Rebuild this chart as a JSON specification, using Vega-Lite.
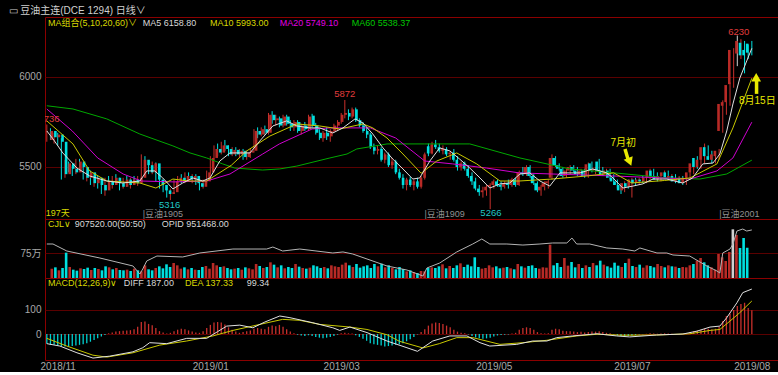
{
"$schema":"https://vega.github.io/schema/vega-lite/v6.json",
"background":"#000000",
"padding":{"top":5,"left":0,"right":0,"bottom":0},
"spacing":0,
"bounds":"flush",
"title":{"text":"▭ 豆油主连(DCE 1294)   日线∨","anchor":"start","frame":"bounds","color":"#d0d0d0","fontSize":10,"font":"Liberation Sans, Noto Sans CJK SC","fontWeight":"normal","dx":8,"offset":1},
"config":{
 "view":{"stroke":"#8b0000","strokeWidth":1},
 "axis":{"domain":false,"ticks":false,"labelColor":"#a8a8a8","labelFont":"Liberation Sans, Noto Sans CJK SC","labelFontSize":10,"gridColor":"#5a0000","gridWidth":1},
 "axisY":{"minExtent":44,"maxExtent":44,"labelPadding":4}
},
"datasets":{
"k":[
{"i":0,"o":5650,"h":5736,"l":5640,"c":5700,"v":280000,"m":-40},
{"i":1,"o":5700,"h":5715,"l":5650,"c":5665,"v":320000,"m":-45},
{"i":2,"o":5665,"h":5690,"l":5630,"c":5680,"v":230000,"m":-45},
{"i":3,"o":5680,"h":5690,"l":5620,"c":5640,"v":300000,"m":-48},
{"i":4,"o":5640,"h":5660,"l":5430,"c":5460,"v":760000,"m":-50},
{"i":5,"o":5460,"h":5540,"l":5440,"c":5520,"v":330000,"m":-52},
{"i":6,"o":5520,"h":5530,"l":5470,"c":5490,"v":250000,"m":-52},
{"i":7,"o":5490,"h":5510,"l":5450,"c":5470,"v":220000,"m":-50},
{"i":8,"o":5470,"h":5545,"l":5460,"c":5530,"v":290000,"m":-48},
{"i":9,"o":5530,"h":5545,"l":5480,"c":5500,"v":270000,"m":-45},
{"i":10,"o":5500,"h":5520,"l":5430,"c":5440,"v":310000,"m":-42},
{"i":11,"o":5440,"h":5480,"l":5420,"c":5470,"v":240000,"m":-38},
{"i":12,"o":5470,"h":5480,"l":5400,"c":5410,"v":300000,"m":-32},
{"i":13,"o":5410,"h":5450,"l":5390,"c":5440,"v":270000,"m":-25},
{"i":14,"o":5440,"h":5450,"l":5380,"c":5400,"v":230000,"m":-18},
{"i":15,"o":5400,"h":5430,"l":5350,"c":5370,"v":350000,"m":-10},
{"i":16,"o":5370,"h":5440,"l":5340,"c":5420,"v":320000,"m":-4},
{"i":17,"o":5420,"h":5450,"l":5390,"c":5400,"v":260000,"m":3},
{"i":18,"o":5400,"h":5450,"l":5380,"c":5440,"v":300000,"m":6},
{"i":19,"o":5440,"h":5460,"l":5400,"c":5410,"v":240000,"m":10},
{"i":20,"o":5410,"h":5440,"l":5370,"c":5390,"v":230000,"m":12},
{"i":21,"o":5390,"h":5440,"l":5380,"c":5430,"v":250000,"m":14},
{"i":22,"o":5430,"h":5450,"l":5390,"c":5400,"v":210000,"m":15},
{"i":23,"o":5400,"h":5440,"l":5380,"c":5430,"v":280000,"m":16},
{"i":24,"o":5430,"h":5450,"l":5400,"c":5410,"v":230000,"m":20},
{"i":25,"o":5410,"h":5450,"l":5395,"c":5440,"v":200000,"m":30},
{"i":26,"o":5440,"h":5570,"l":5430,"c":5540,"v":380000,"m":50},
{"i":27,"o":5540,"h":5560,"l":5500,"c":5510,"v":260000,"m":52},
{"i":28,"o":5510,"h":5530,"l":5460,"c":5470,"v":230000,"m":42},
{"i":29,"o":5470,"h":5530,"l":5460,"c":5520,"v":300000,"m":36},
{"i":30,"o":5520,"h":5525,"l":5420,"c":5430,"v":350000,"m":25},
{"i":31,"o":5430,"h":5450,"l":5380,"c":5400,"v":290000,"m":12},
{"i":32,"o":5400,"h":5410,"l":5360,"c":5370,"v":410000,"m":6},
{"i":33,"o":5370,"h":5390,"l":5330,"c":5350,"v":330000,"m":2},
{"i":34,"o":5350,"h":5380,"l":5316,"c":5360,"v":450000,"m":5},
{"i":35,"o":5360,"h":5430,"l":5350,"c":5420,"v":380000,"m":12},
{"i":36,"o":5420,"h":5450,"l":5400,"c":5440,"v":280000,"m":18},
{"i":37,"o":5440,"h":5460,"l":5410,"c":5420,"v":320000,"m":22},
{"i":38,"o":5420,"h":5470,"l":5410,"c":5450,"v":260000,"m":20},
{"i":39,"o":5450,"h":5470,"l":5420,"c":5430,"v":300000,"m":15},
{"i":40,"o":5430,"h":5460,"l":5410,"c":5450,"v":250000,"m":10},
{"i":41,"o":5450,"h":5460,"l":5400,"c":5410,"v":240000,"m":6},
{"i":42,"o":5410,"h":5430,"l":5370,"c":5390,"v":330000,"m":5},
{"i":43,"o":5390,"h":5430,"l":5380,"c":5420,"v":360000,"m":12},
{"i":44,"o":5420,"h":5480,"l":5410,"c":5470,"v":280000,"m":25},
{"i":45,"o":5470,"h":5560,"l":5460,"c":5550,"v":450000,"m":38},
{"i":46,"o":5550,"h":5620,"l":5540,"c":5600,"v":380000,"m":48},
{"i":47,"o":5600,"h":5630,"l":5560,"c":5580,"v":330000,"m":50},
{"i":48,"o":5580,"h":5640,"l":5570,"c":5620,"v":350000,"m":48},
{"i":49,"o":5620,"h":5650,"l":5590,"c":5600,"v":300000,"m":40},
{"i":50,"o":5600,"h":5620,"l":5560,"c":5570,"v":260000,"m":28},
{"i":51,"o":5570,"h":5610,"l":5560,"c":5595,"v":280000,"m":18},
{"i":52,"o":5595,"h":5610,"l":5560,"c":5570,"v":300000,"m":10},
{"i":53,"o":5570,"h":5600,"l":5550,"c":5590,"v":250000,"m":5},
{"i":54,"o":5590,"h":5600,"l":5540,"c":5555,"v":320000,"m":8},
{"i":55,"o":5555,"h":5590,"l":5540,"c":5580,"v":290000,"m":12},
{"i":56,"o":5580,"h":5600,"l":5550,"c":5590,"v":260000,"m":15},
{"i":57,"o":5590,"h":5710,"l":5580,"c":5700,"v":420000,"m":22},
{"i":58,"o":5700,"h":5720,"l":5660,"c":5680,"v":360000,"m":25},
{"i":59,"o":5680,"h":5720,"l":5670,"c":5710,"v":300000,"m":22},
{"i":60,"o":5710,"h":5730,"l":5680,"c":5690,"v":330000,"m":20},
{"i":61,"o":5690,"h":5800,"l":5680,"c":5790,"v":470000,"m":30},
{"i":62,"o":5790,"h":5810,"l":5740,"c":5760,"v":400000,"m":35},
{"i":63,"o":5760,"h":5790,"l":5730,"c":5770,"v":320000,"m":32},
{"i":64,"o":5770,"h":5780,"l":5720,"c":5730,"v":380000,"m":38},
{"i":65,"o":5730,"h":5790,"l":5720,"c":5780,"v":290000,"m":30},
{"i":66,"o":5780,"h":5790,"l":5730,"c":5740,"v":330000,"m":20},
{"i":67,"o":5740,"h":5760,"l":5700,"c":5720,"v":300000,"m":10},
{"i":68,"o":5720,"h":5760,"l":5700,"c":5750,"v":420000,"m":3},
{"i":69,"o":5750,"h":5760,"l":5690,"c":5700,"v":340000,"m":-3},
{"i":70,"o":5700,"h":5740,"l":5680,"c":5730,"v":300000,"m":-6},
{"i":71,"o":5730,"h":5750,"l":5700,"c":5710,"v":280000,"m":-8},
{"i":72,"o":5710,"h":5790,"l":5700,"c":5780,"v":310000,"m":-5},
{"i":73,"o":5785,"h":5795,"l":5720,"c":5730,"v":380000,"m":-8},
{"i":74,"o":5730,"h":5745,"l":5680,"c":5690,"v":350000,"m":-12},
{"i":75,"o":5690,"h":5710,"l":5650,"c":5660,"v":300000,"m":-15},
{"i":76,"o":5660,"h":5700,"l":5640,"c":5690,"v":330000,"m":-18},
{"i":77,"o":5690,"h":5720,"l":5650,"c":5670,"v":290000,"m":-15},
{"i":78,"o":5670,"h":5710,"l":5640,"c":5700,"v":380000,"m":-12},
{"i":79,"o":5700,"h":5740,"l":5690,"c":5730,"v":350000,"m":-8},
{"i":80,"o":5730,"h":5760,"l":5700,"c":5750,"v":330000,"m":-3},
{"i":81,"o":5750,"h":5800,"l":5740,"c":5790,"v":400000,"m":3},
{"i":82,"o":5790,"h":5872,"l":5770,"c":5800,"v":460000,"m":5},
{"i":83,"o":5800,"h":5820,"l":5760,"c":5780,"v":380000,"m":3},
{"i":84,"o":5780,"h":5830,"l":5770,"c":5820,"v":330000,"m":2},
{"i":85,"o":5820,"h":5830,"l":5750,"c":5760,"v":420000,"m":-5},
{"i":86,"o":5760,"h":5770,"l":5720,"c":5730,"v":310000,"m":-12},
{"i":87,"o":5730,"h":5750,"l":5690,"c":5700,"v":350000,"m":-20},
{"i":88,"o":5700,"h":5720,"l":5660,"c":5680,"v":380000,"m":-28},
{"i":89,"o":5680,"h":5690,"l":5600,"c":5610,"v":300000,"m":-38},
{"i":90,"o":5610,"h":5630,"l":5570,"c":5590,"v":420000,"m":-42},
{"i":91,"o":5590,"h":5620,"l":5570,"c":5600,"v":350000,"m":-45},
{"i":92,"o":5600,"h":5610,"l":5530,"c":5540,"v":430000,"m":-48},
{"i":93,"o":5540,"h":5580,"l":5520,"c":5570,"v":320000,"m":-52},
{"i":94,"o":5570,"h":5580,"l":5500,"c":5510,"v":380000,"m":-50},
{"i":95,"o":5510,"h":5550,"l":5490,"c":5530,"v":300000,"m":-48},
{"i":96,"o":5530,"h":5540,"l":5460,"c":5470,"v":260000,"m":-45},
{"i":97,"o":5470,"h":5490,"l":5430,"c":5440,"v":330000,"m":-42},
{"i":98,"o":5440,"h":5460,"l":5380,"c":5400,"v":270000,"m":-38},
{"i":99,"o":5400,"h":5440,"l":5370,"c":5430,"v":200000,"m":-30},
{"i":100,"o":5430,"h":5445,"l":5390,"c":5400,"v":230000,"m":-22},
{"i":101,"o":5400,"h":5430,"l":5370,"c":5420,"v":180000,"m":-12},
{"i":102,"o":5420,"h":5440,"l":5380,"c":5390,"v":150000,"m":-2},
{"i":103,"o":5390,"h":5450,"l":5380,"c":5440,"v":210000,"m":8},
{"i":104,"o":5440,"h":5580,"l":5430,"c":5570,"v":200000,"m":20},
{"i":105,"o":5615,"h":5630,"l":5560,"c":5575,"v":300000,"m":35},
{"i":106,"o":5575,"h":5640,"l":5570,"c":5625,"v":320000,"m":44},
{"i":107,"o":5625,"h":5650,"l":5600,"c":5610,"v":300000,"m":48},
{"i":108,"o":5610,"h":5630,"l":5580,"c":5590,"v":350000,"m":46},
{"i":109,"o":5590,"h":5620,"l":5570,"c":5600,"v":410000,"m":42},
{"i":110,"o":5600,"h":5610,"l":5560,"c":5570,"v":290000,"m":35},
{"i":111,"o":5570,"h":5590,"l":5540,"c":5580,"v":360000,"m":28},
{"i":112,"o":5580,"h":5600,"l":5530,"c":5540,"v":300000,"m":18},
{"i":113,"o":5540,"h":5560,"l":5480,"c":5500,"v":380000,"m":10},
{"i":114,"o":5500,"h":5530,"l":5480,"c":5520,"v":440000,"m":5},
{"i":115,"o":5520,"h":5530,"l":5480,"c":5490,"v":330000,"m":3},
{"i":116,"o":5490,"h":5510,"l":5440,"c":5450,"v":400000,"m":-2},
{"i":117,"o":5450,"h":5470,"l":5400,"c":5420,"v":350000,"m":-8},
{"i":118,"o":5420,"h":5440,"l":5370,"c":5380,"v":620000,"m":-14},
{"i":119,"o":5380,"h":5400,"l":5340,"c":5360,"v":330000,"m":-18},
{"i":120,"o":5360,"h":5390,"l":5330,"c":5370,"v":280000,"m":-20},
{"i":121,"o":5370,"h":5400,"l":5340,"c":5390,"v":300000,"m":-18},
{"i":122,"o":5390,"h":5410,"l":5266,"c":5400,"v":380000,"m":-15},
{"i":123,"o":5400,"h":5430,"l":5380,"c":5420,"v":320000,"m":-10},
{"i":124,"o":5420,"h":5430,"l":5390,"c":5400,"v":350000,"m":-6},
{"i":125,"o":5400,"h":5420,"l":5370,"c":5390,"v":290000,"m":-4},
{"i":126,"o":5390,"h":5420,"l":5380,"c":5410,"v":310000,"m":-3},
{"i":127,"o":5410,"h":5430,"l":5380,"c":5400,"v":330000,"m":-2},
{"i":128,"o":5400,"h":5440,"l":5390,"c":5430,"v":290000,"m":2},
{"i":129,"o":5430,"h":5440,"l":5390,"c":5400,"v":260000,"m":5},
{"i":130,"o":5400,"h":5480,"l":5395,"c":5470,"v":420000,"m":18},
{"i":131,"o":5470,"h":5500,"l":5450,"c":5460,"v":350000,"m":25},
{"i":132,"o":5460,"h":5510,"l":5450,"c":5500,"v":310000,"m":28},
{"i":133,"o":5500,"h":5510,"l":5440,"c":5450,"v":360000,"m":25},
{"i":134,"o":5450,"h":5460,"l":5400,"c":5410,"v":380000,"m":18},
{"i":135,"o":5410,"h":5420,"l":5360,"c":5370,"v":300000,"m":8},
{"i":136,"o":5370,"h":5400,"l":5340,"c":5390,"v":280000,"m":3},
{"i":137,"o":5390,"h":5420,"l":5370,"c":5410,"v":320000,"m":2},
{"i":138,"o":5410,"h":5430,"l":5380,"c":5420,"v":310000,"m":3},
{"i":139,"o":5440,"h":5570,"l":5430,"c":5550,"v":1000000,"m":18},
{"i":140,"o":5550,"h":5560,"l":5500,"c":5510,"v":380000,"m":22},
{"i":141,"o":5510,"h":5520,"l":5480,"c":5490,"v":450000,"m":20},
{"i":142,"o":5490,"h":5500,"l":5440,"c":5450,"v":330000,"m":14},
{"i":143,"o":5450,"h":5490,"l":5440,"c":5480,"v":600000,"m":12},
{"i":144,"o":5480,"h":5510,"l":5460,"c":5500,"v":370000,"m":12},
{"i":145,"o":5500,"h":5510,"l":5470,"c":5480,"v":480000,"m":10},
{"i":146,"o":5480,"h":5500,"l":5450,"c":5460,"v":320000,"m":8},
{"i":147,"o":5460,"h":5490,"l":5450,"c":5480,"v":420000,"m":9},
{"i":148,"o":5480,"h":5490,"l":5440,"c":5450,"v":300000,"m":6},
{"i":149,"o":5450,"h":5525,"l":5440,"c":5515,"v":380000,"m":8},
{"i":150,"o":5520,"h":5530,"l":5470,"c":5480,"v":330000,"m":10},
{"i":151,"o":5480,"h":5500,"l":5460,"c":5490,"v":450000,"m":10},
{"i":152,"o":5530,"h":5545,"l":5470,"c":5480,"v":380000,"m":12},
{"i":153,"o":5480,"h":5500,"l":5450,"c":5460,"v":520000,"m":8},
{"i":154,"o":5460,"h":5490,"l":5440,"c":5480,"v":400000,"m":5},
{"i":155,"o":5480,"h":5490,"l":5430,"c":5440,"v":350000,"m":3},
{"i":156,"o":5440,"h":5460,"l":5400,"c":5420,"v":310000,"m":-2},
{"i":157,"o":5420,"h":5430,"l":5380,"c":5400,"v":460000,"m":-5},
{"i":158,"o":5400,"h":5410,"l":5350,"c":5370,"v":370000,"m":-8},
{"i":159,"o":5370,"h":5420,"l":5360,"c":5410,"v":330000,"m":-10},
{"i":160,"o":5410,"h":5430,"l":5380,"c":5390,"v":450000,"m":-8},
{"i":161,"o":5390,"h":5440,"l":5330,"c":5430,"v":580000,"m":-6},
{"i":162,"o":5430,"h":5440,"l":5400,"c":5410,"v":360000,"m":-4},
{"i":163,"o":5410,"h":5440,"l":5400,"c":5430,"v":330000,"m":-2},
{"i":164,"o":5430,"h":5450,"l":5410,"c":5420,"v":400000,"m":-1},
{"i":165,"o":5420,"h":5450,"l":5410,"c":5440,"v":310000,"m":1},
{"i":166,"o":5440,"h":5490,"l":5430,"c":5480,"v":380000,"m":3},
{"i":167,"o":5480,"h":5490,"l":5440,"c":5450,"v":360000,"m":2},
{"i":168,"o":5450,"h":5470,"l":5420,"c":5430,"v":320000,"m":1},
{"i":169,"o":5430,"h":5460,"l":5420,"c":5450,"v":420000,"m":2},
{"i":170,"o":5450,"h":5480,"l":5440,"c":5470,"v":360000,"m":3},
{"i":171,"o":5470,"h":5480,"l":5430,"c":5440,"v":320000,"m":2},
{"i":172,"o":5440,"h":5460,"l":5420,"c":5450,"v":380000,"m":1},
{"i":173,"o":5450,"h":5460,"l":5410,"c":5420,"v":350000,"m":-1},
{"i":174,"o":5420,"h":5450,"l":5410,"c":5440,"v":340000,"m":-1},
{"i":175,"o":5440,"h":5450,"l":5400,"c":5410,"v":300000,"m":1},
{"i":176,"o":5410,"h":5450,"l":5400,"c":5440,"v":330000,"m":3},
{"i":177,"o":5440,"h":5480,"l":5430,"c":5470,"v":320000,"m":8},
{"i":178,"o":5470,"h":5530,"l":5460,"c":5520,"v":380000,"m":12},
{"i":179,"o":5550,"h":5560,"l":5490,"c":5500,"v":420000,"m":14},
{"i":180,"o":5500,"h":5560,"l":5490,"c":5540,"v":520000,"m":18},
{"i":181,"o":5540,"h":5630,"l":5520,"c":5610,"v":600000,"m":22},
{"i":182,"o":5610,"h":5620,"l":5540,"c":5560,"v":470000,"m":22},
{"i":183,"o":5560,"h":5590,"l":5520,"c":5540,"v":380000,"m":20},
{"i":184,"o":5540,"h":5580,"l":5520,"c":5570,"v":320000,"m":22},
{"i":185,"o":5560,"h":5600,"l":5540,"c":5590,"v":250000,"m":30},
{"i":186,"o":5700,"h":5870,"l":5690,"c":5850,"v":720000,"m":54},
{"i":187,"o":5840,"h":5880,"l":5790,"c":5860,"v":620000,"m":75},
{"i":188,"o":5860,"h":5970,"l":5840,"c":5955,"v":510000,"m":85},
{"i":189,"o":5960,"h":6160,"l":5940,"c":6150,"v":780000,"m":100},
{"i":190,"o":6140,"h":6230,"l":6060,"c":6140,"v":1460000,"m":117},
{"i":191,"o":6130,"h":6210,"l":6100,"c":6200,"v":1290000,"m":125},
{"i":192,"o":6190,"h":6200,"l":6020,"c":6120,"v":900000,"m":130},
{"i":193,"o":6150,"h":6180,"l":6100,"c":6120,"v":1200000,"m":108},
{"i":194,"o":6185,"h":6200,"l":6120,"c":6135,"v":907520,"m":99.34}
],
"ma5":[{"i":0,"p":5700},{"i":1.7,"p":5656},{"i":4.4,"p":5578},{"i":8.3,"p":5494},{"i":11.8,"p":5450},{"i":16.5,"p":5422},{"i":20.9,"p":5411},{"i":25.6,"p":5422},{"i":27.5,"p":5478},{"i":29.7,"p":5478},{"i":31.9,"p":5439},{"i":34.7,"p":5378},{"i":37.4,"p":5411},{"i":40.2,"p":5439},{"i":42.9,"p":5422},{"i":44.9,"p":5439},{"i":47.6,"p":5533},{"i":50.4,"p":5578},{"i":53.1,"p":5578},{"i":55.9,"p":5578},{"i":58.6,"p":5644},{"i":62.2,"p":5728},{"i":66,"p":5756},{"i":68.8,"p":5728},{"i":72.4,"p":5717},{"i":75.1,"p":5717},{"i":78.7,"p":5689},{"i":81.5,"p":5717},{"i":84.8,"p":5767},{"i":87,"p":5744},{"i":89.7,"p":5683},{"i":92.5,"p":5606},{"i":95.2,"p":5544},{"i":98,"p":5489},{"i":100.7,"p":5433},{"i":102.6,"p":5439},{"i":105.4,"p":5533},{"i":108.1,"p":5606},{"i":110.9,"p":5589},{"i":113.6,"p":5544},{"i":116.4,"p":5494},{"i":119.2,"p":5439},{"i":121.9,"p":5383},{"i":124.7,"p":5406},{"i":127.4,"p":5411},{"i":130.2,"p":5461},{"i":132.9,"p":5467},{"i":135.7,"p":5422},{"i":138.4,"p":5394},{"i":141.2,"p":5467},{"i":143.9,"p":5467},{"i":146.7,"p":5467},{"i":150.2,"p":5489},{"i":154.1,"p":5467},{"i":155.8,"p":5439},{"i":158.5,"p":5383},{"i":161.3,"p":5394},{"i":164,"p":5406},{"i":166.8,"p":5433},{"i":170.6,"p":5433},{"i":175,"p":5411},{"i":177.7,"p":5439},{"i":180.5,"p":5517},{"i":183.3,"p":5522},{"i":185.2,"p":5572},{"i":187.1,"p":5700},{"i":188.8,"p":5850},{"i":190.7,"p":5994},{"i":192.6,"p":6089},{"i":194,"p":6159}],
"ma10":[{"i":0,"p":5756},{"i":7.2,"p":5628},{"i":11.8,"p":5478},{"i":16.5,"p":5422},{"i":25.6,"p":5411},{"i":30,"p":5383},{"i":34.7,"p":5433},{"i":39,"p":5422},{"i":44,"p":5422},{"i":50.8,"p":5510},{"i":55,"p":5589},{"i":61.4,"p":5672},{"i":68.8,"p":5739},{"i":75,"p":5728},{"i":80.6,"p":5711},{"i":87,"p":5739},{"i":89.7,"p":5717},{"i":93.6,"p":5661},{"i":98,"p":5572},{"i":103,"p":5465},{"i":107.3,"p":5533},{"i":112.8,"p":5578},{"i":118.3,"p":5517},{"i":124.7,"p":5422},{"i":130,"p":5422},{"i":139,"p":5433},{"i":148.6,"p":5450},{"i":156,"p":5467},{"i":161,"p":5411},{"i":170,"p":5425},{"i":177,"p":5439},{"i":184.4,"p":5517},{"i":188.8,"p":5717},{"i":194,"p":5993}],
"ma20":[{"i":0,"p":5822},{"i":7,"p":5700},{"i":14,"p":5550},{"i":21,"p":5461},{"i":26,"p":5422},{"i":35,"p":5417},{"i":44,"p":5422},{"i":50.4,"p":5461},{"i":59.4,"p":5572},{"i":64,"p":5628},{"i":73,"p":5711},{"i":78,"p":5717},{"i":89,"p":5717},{"i":96,"p":5661},{"i":104,"p":5533},{"i":111.7,"p":5517},{"i":121,"p":5494},{"i":130,"p":5467},{"i":139,"p":5461},{"i":156,"p":5450},{"i":177,"p":5433},{"i":184.4,"p":5478},{"i":188.8,"p":5550},{"i":194,"p":5749}],
"ma60":[{"i":0,"p":5840},{"i":7.2,"p":5822},{"i":16.5,"p":5767},{"i":25.6,"p":5683},{"i":34.7,"p":5617},{"i":39.4,"p":5578},{"i":44,"p":5550},{"i":48.4,"p":5517},{"i":51.7,"p":5494},{"i":59.4,"p":5483},{"i":64.1,"p":5489},{"i":68.8,"p":5505},{"i":77.9,"p":5550},{"i":82.6,"p":5572},{"i":85.3,"p":5600},{"i":93.6,"p":5628},{"i":104,"p":5628},{"i":116.4,"p":5628},{"i":130.2,"p":5550},{"i":143.9,"p":5489},{"i":156.3,"p":5467},{"i":170.6,"p":5439},{"i":179.7,"p":5433},{"i":187.1,"p":5461},{"i":194,"p":5538}],
"oi":[{"i":0,"p":761000},{"i":1.7,"p":761000},{"i":5.5,"p":666000},{"i":14.6,"p":571000},{"i":23.7,"p":463000},{"i":25.6,"p":354000},{"i":26.4,"p":422000},{"i":27.5,"p":531000},{"i":30.3,"p":598000},{"i":37.4,"p":585000},{"i":42.1,"p":639000},{"i":51.2,"p":693000},{"i":60.5,"p":693000},{"i":62.2,"p":720000},{"i":64.9,"p":666000},{"i":69.6,"p":693000},{"i":78.7,"p":639000},{"i":81.5,"p":653000},{"i":84.2,"p":625000},{"i":88.1,"p":558000},{"i":93.6,"p":463000},{"i":99.1,"p":408000},{"i":103.5,"p":327000},{"i":104.6,"p":436000},{"i":108.1,"p":503000},{"i":112.8,"p":653000},{"i":117.2,"p":761000},{"i":119.7,"p":829000},{"i":121.9,"p":761000},{"i":126.6,"p":761000},{"i":131,"p":747000},{"i":135.7,"p":761000},{"i":139.2,"p":775000},{"i":143.1,"p":775000},{"i":144.5,"p":842000},{"i":145.8,"p":761000},{"i":149.4,"p":761000},{"i":154.1,"p":707000},{"i":158.5,"p":693000},{"i":161.8,"p":666000},{"i":163.2,"p":707000},{"i":167.9,"p":639000},{"i":170.6,"p":639000},{"i":172.3,"p":612000},{"i":176.9,"p":598000},{"i":181.6,"p":463000},{"i":184.4,"p":395000},{"i":185.2,"p":368000},{"i":186,"p":639000},{"i":188,"p":693000},{"i":188.8,"p":761000},{"i":189.9,"p":937000},{"i":191.5,"p":964000},{"i":192.6,"p":937000},{"i":194,"p":951468}],
"diff":[{"i":0,"p":-40},{"i":3.6,"p":-50},{"i":8.3,"p":-78},{"i":12.7,"p":-100},{"i":17.3,"p":-92},{"i":23.7,"p":-74},{"i":26.4,"p":-57},{"i":28.3,"p":-36},{"i":33,"p":-40},{"i":38.5,"p":-18},{"i":44,"p":-18},{"i":47,"p":10},{"i":49.5,"p":33},{"i":53.1,"p":37},{"i":56.7,"p":26},{"i":60,"p":50},{"i":64.1,"p":75},{"i":66.9,"p":68},{"i":73.2,"p":47},{"i":78.7,"p":26},{"i":80.6,"p":15},{"i":83.4,"p":29},{"i":88.1,"p":6},{"i":93.6,"p":-29},{"i":99.1,"p":-57},{"i":102,"p":-72},{"i":106.2,"p":-29},{"i":110.9,"p":-8},{"i":115.6,"p":-8},{"i":119.2,"p":-36},{"i":121.9,"p":-50},{"i":129.3,"p":-43},{"i":133.7,"p":-29},{"i":137.6,"p":-29},{"i":140.3,"p":-15},{"i":144.7,"p":-8},{"i":151.4,"p":1},{"i":156.8,"p":-8},{"i":160.4,"p":-12},{"i":167.8,"p":-4},{"i":175,"p":0},{"i":178.9,"p":12},{"i":182.5,"p":29},{"i":185.2,"p":33},{"i":187.1,"p":68},{"i":189.9,"p":130},{"i":191.5,"p":172},{"i":194,"p":187}],
"dea":[{"i":0,"p":-18},{"i":5.5,"p":-50},{"i":12.7,"p":-88},{"i":16.5,"p":-96},{"i":23.7,"p":-78},{"i":31.1,"p":-46},{"i":38.5,"p":-29},{"i":45.7,"p":-8},{"i":51.2,"p":15},{"i":58.6,"p":40},{"i":64.9,"p":61},{"i":69.6,"p":57},{"i":75.1,"p":40},{"i":83.4,"p":29},{"i":88.1,"p":19},{"i":93.6,"p":-3},{"i":97,"p":-30},{"i":103.5,"p":-58},{"i":108,"p":-40},{"i":112.8,"p":-15},{"i":117.2,"p":-15},{"i":124.7,"p":-43},{"i":131,"p":-36},{"i":137.6,"p":-26},{"i":145.8,"p":-8},{"i":151.4,"p":-1},{"i":158.5,"p":-5},{"i":167.8,"p":-4},{"i":176.9,"p":1},{"i":182.5,"p":15},{"i":185.2,"p":19},{"i":188,"p":54},{"i":190.7,"p":89},{"i":194,"p":137.33}]
},
"vconcat":[
{"width":733,"height":202,
 "resolve":{"scale":{"x":"independent","y":"independent"}},
 "layer":[
  {"data":{"name":"k"},"mark":{"type":"rule","strokeWidth":1},
   "encoding":{"x":{"field":"i","type":"quantitative","title":null,"scale":{"domain":[-0.5,201.2],"nice":false,"zero":false},"axis":null},
    "y":{"field":"l","type":"quantitative","title":null,"scale":{"domain":[5211,6333],"nice":false,"zero":false},"axis":{"values":[5500,6000],"format":"d","grid":true}},
    "y2":{"field":"h"},
    "color":{"condition":[{"test":"datum.c>datum.o","value":"#c8302c"},{"test":"datum.c<datum.o","value":"#00e0e0"}],"value":"#d0d0d0"}}},
  {"data":{"name":"k"},"mark":{"type":"bar","width":2.6},
   "encoding":{"x":{"field":"i","type":"quantitative","title":null,"scale":{"domain":[-0.5,201.2],"nice":false,"zero":false},"axis":null},
    "y":{"field":"o","type":"quantitative","title":null,"scale":{"domain":[5211,6333],"nice":false,"zero":false},"axis":null},
    "y2":{"field":"c"},
    "color":{"condition":[{"test":"datum.c>datum.o","value":"#b82a26"},{"test":"datum.c<datum.o","value":"#00e0e0"}],"value":"#d0d0d0"}}},
  {"data":{"name":"ma60"},"mark":{"type":"line","color":"#00a800","strokeWidth":1},"encoding":{"x":{"field":"i","type":"quantitative","title":null,"scale":{"domain":[-0.5,201.2],"nice":false,"zero":false},"axis":null},"y":{"field":"p","type":"quantitative","title":null,"scale":{"domain":[5211,6333],"nice":false,"zero":false},"axis":null}}},
  {"data":{"name":"ma20"},"mark":{"type":"line","color":"#d000d0","strokeWidth":1},"encoding":{"x":{"field":"i","type":"quantitative","title":null,"scale":{"domain":[-0.5,201.2],"nice":false,"zero":false},"axis":null},"y":{"field":"p","type":"quantitative","title":null,"scale":{"domain":[5211,6333],"nice":false,"zero":false},"axis":null}}},
  {"data":{"name":"ma10"},"mark":{"type":"line","color":"#c8c800","strokeWidth":1},"encoding":{"x":{"field":"i","type":"quantitative","title":null,"scale":{"domain":[-0.5,201.2],"nice":false,"zero":false},"axis":null},"y":{"field":"p","type":"quantitative","title":null,"scale":{"domain":[5211,6333],"nice":false,"zero":false},"axis":null}}},
  {"data":{"name":"ma5"},"mark":{"type":"line","color":"#e0e0e0","strokeWidth":1},"encoding":{"x":{"field":"i","type":"quantitative","title":null,"scale":{"domain":[-0.5,201.2],"nice":false,"zero":false},"axis":null},"y":{"field":"p","type":"quantitative","title":null,"scale":{"domain":[5211,6333],"nice":false,"zero":false},"axis":null}}},
  {"data":{"values":[{"t":"MA组合(5,10,20,60)∨","x":0.3,"col":"#d8d800"},{"t":"MA5 6158.80","x":26.4,"col":"#d8d8d8"},{"t":"MA10 5993.00","x":44.9,"col":"#d8d800"},{"t":"MA20 5749.10","x":64.1,"col":"#e000e0"},{"t":"MA60 5538.37","x":83.9,"col":"#00c800"}]},
   "mark":{"type":"text","align":"left","baseline":"middle","font":"Liberation Sans, Noto Sans CJK SC","fontSize":9},
   "encoding":{"x":{"field":"x","type":"quantitative","scale":{"domain":[-0.5,201.2],"nice":false,"zero":false},"axis":null},"y":{"datum":6300,"type":"quantitative","scale":{"domain":[5211,6333],"nice":false,"zero":false},"axis":null},"text":{"field":"t"},"color":{"field":"col","type":"nominal","scale":null}}},
  {"data":{"values":[{"t":"5736","x":0.6,"p":5767,"col":"#e03c3c"},{"t":"5872","x":82,"p":5906,"col":"#e03c3c"},{"t":"6230","x":190.4,"p":6247,"col":"#e03c3c"},{"t":"5316","x":33.8,"p":5289,"col":"#20c8c8"},{"t":"5266","x":122.2,"p":5244,"col":"#20c8c8"}]},
   "mark":{"type":"text","align":"center","baseline":"middle","font":"Liberation Sans","fontSize":9.5,"clip":true},
   "encoding":{"x":{"field":"x","type":"quantitative","scale":{"domain":[-0.5,201.2],"nice":false,"zero":false},"axis":null},"y":{"field":"p","type":"quantitative","scale":{"domain":[5211,6333],"nice":false,"zero":false},"axis":null},"text":{"field":"t"},"color":{"field":"col","type":"nominal","scale":null}}},
  {"data":{"values":[{"t":"197天","x":-0.3,"p":5243,"col":"#d8d800"},{"t":"|豆油1905","x":26.4,"p":5237,"col":"#909090"},{"t":"|豆油1909","x":103.9,"p":5237,"col":"#909090"},{"t":"|豆油2001","x":185,"p":5237,"col":"#909090"}]},
   "mark":{"type":"text","align":"left","baseline":"middle","font":"Liberation Sans, Noto Sans CJK SC","fontSize":9},
   "encoding":{"x":{"field":"x","type":"quantitative","scale":{"domain":[-0.5,201.2],"nice":false,"zero":false},"axis":null},"y":{"field":"p","type":"quantitative","scale":{"domain":[5211,6333],"nice":false,"zero":false},"axis":null},"text":{"field":"t"},"color":{"field":"col","type":"nominal","scale":null}}},
  {"data":{"values":[{"t":"7月初","x":158.6,"p":5633},{"t":"8月15日","x":195.5,"p":5867}]},
   "mark":{"type":"text","align":"center","baseline":"middle","font":"Liberation Sans, Noto Sans CJK SC","fontSize":10,"color":"#e8e800"},
   "encoding":{"x":{"field":"x","type":"quantitative","scale":{"domain":[-0.5,201.2],"nice":false,"zero":false},"axis":null},"y":{"field":"p","type":"quantitative","scale":{"domain":[5211,6333],"nice":false,"zero":false},"axis":null},"text":{"field":"t"}}},
  {"data":{"values":[{"x":159.1,"x2":159.9,"p":5600,"p2":5545},{"x":195.3,"x2":195.3,"p":5906,"p2":5985}]},
   "mark":{"type":"rule","color":"#e8e800","strokeWidth":3.5},
   "encoding":{"x":{"field":"x","type":"quantitative","scale":{"domain":[-0.5,201.2],"nice":false,"zero":false},"axis":null},"x2":{"field":"x2"},"y":{"field":"p","type":"quantitative","scale":{"domain":[5211,6333],"nice":false,"zero":false},"axis":null},"y2":{"field":"p2"}}},
  {"data":{"values":[{"x":160.4,"p":5528,"a":158},{"x":195.2,"p":5998,"a":0}]},
   "mark":{"type":"point","shape":"triangle-up","filled":true,"opacity":1,"color":"#e8e800","size":95},
   "encoding":{"x":{"field":"x","type":"quantitative","scale":{"domain":[-0.5,201.2],"nice":false,"zero":false},"axis":null},"y":{"field":"p","type":"quantitative","scale":{"domain":[5211,6333],"nice":false,"zero":false},"axis":null},"angle":{"field":"a","type":"quantitative","scale":null}}}
 ]},
{"width":733,"height":59,
 "resolve":{"scale":{"x":"independent","y":"independent"}},
 "layer":[
  {"data":{"name":"k"},"mark":{"type":"bar","width":2.6},
   "encoding":{"x":{"field":"i","type":"quantitative","title":null,"scale":{"domain":[-0.5,201.2],"nice":false,"zero":false},"axis":null},
    "y":{"field":"v","type":"quantitative","title":null,"scale":{"domain":[0,1770000],"nice":false},"axis":{"values":[750000],"labelExpr":"'75万'","grid":true}},
    "color":{"condition":[{"test":"datum.c>datum.o","value":"#b82a26"},{"test":"datum.c<datum.o","value":"#00e0e0"}],"value":"#d0d0d0"}}},
  {"data":{"name":"oi"},"mark":{"type":"line","color":"#b4b4b4","strokeWidth":1},
   "encoding":{"x":{"field":"i","type":"quantitative","title":null,"scale":{"domain":[-0.5,201.2],"nice":false,"zero":false},"axis":null},
    "y":{"field":"p","type":"quantitative","title":null,"scale":{"domain":[300000,1100000],"nice":false,"zero":false},"axis":null}}},
  {"data":{"values":[{"t":"CJL∨","x":0.3,"col":"#d8d800"},{"t":"907520.00(50:50)","x":7.7,"col":"#d8d8d8"},{"t":"OPID 951468.00","x":31.6,"col":"#d8d8d8"}]},
   "mark":{"type":"text","align":"left","baseline":"middle","font":"Liberation Sans","fontSize":9},
   "encoding":{"x":{"field":"x","type":"quantitative","scale":{"domain":[-0.5,201.2],"nice":false,"zero":false},"axis":null},"y":{"datum":1611000,"type":"quantitative","scale":{"domain":[0,1770000],"nice":false},"axis":null},"text":{"field":"t"},"color":{"field":"col","type":"nominal","scale":null}}}
 ]},
{"width":733,"height":82,
 "resolve":{"scale":{"x":"independent","y":"independent"}},
 "layer":[
  {"data":{"name":"k"},"mark":{"type":"rule","strokeWidth":1.3},
   "encoding":{"x":{"field":"i","type":"quantitative","title":null,"scale":{"domain":[-0.5,201.2],"nice":false,"zero":false},
     "axis":{"values":[3,45,81,123,161,194],"labelExpr":"datum.value<20?'2018/11':datum.value<60?'2019/01':datum.value<100?'2019/03':datum.value<140?'2019/05':datum.value<180?'2019/07':'2019/08'","grid":false,"labelBaseline":"middle","labelPadding":6,"labelFlush":false,"labelOverlap":false}},
    "y":{"field":"m","type":"quantitative","title":null,"scale":{"domain":[-108,233],"nice":false,"zero":false},"axis":{"values":[0,100],"grid":true}},
    "y2":{"datum":0},
    "color":{"condition":{"test":"datum.m>=0","value":"#c8302c"},"value":"#00d0d0"}}},
  {"data":{"name":"dea"},"mark":{"type":"line","color":"#c8c800","strokeWidth":1},"encoding":{"x":{"field":"i","type":"quantitative","title":null,"scale":{"domain":[-0.5,201.2],"nice":false,"zero":false},"axis":null},"y":{"field":"p","type":"quantitative","title":null,"scale":{"domain":[-108,233],"nice":false,"zero":false},"axis":null}}},
  {"data":{"name":"diff"},"mark":{"type":"line","color":"#e0e0e0","strokeWidth":1},"encoding":{"x":{"field":"i","type":"quantitative","title":null,"scale":{"domain":[-0.5,201.2],"nice":false,"zero":false},"axis":null},"y":{"field":"p","type":"quantitative","title":null,"scale":{"domain":[-108,233],"nice":false,"zero":false},"axis":null}}},
  {"data":{"values":[{"t":"MACD(12,26,9)∨","x":0.3,"col":"#d8d800"},{"t":"DIFF 187.00","x":21.2,"col":"#d8d8d8"},{"t":"DEA 137.33","x":38,"col":"#d8d800"},{"t":"99.34","x":55,"col":"#d8d8d8"}]},
   "mark":{"type":"text","align":"left","baseline":"middle","font":"Liberation Sans","fontSize":9},
   "encoding":{"x":{"field":"x","type":"quantitative","scale":{"domain":[-0.5,201.2],"nice":false,"zero":false},"axis":null},"y":{"datum":214,"type":"quantitative","scale":{"domain":[-108,233],"nice":false,"zero":false},"axis":null},"text":{"field":"t"},"color":{"field":"col","type":"nominal","scale":null}}}
 ]}
]
}
